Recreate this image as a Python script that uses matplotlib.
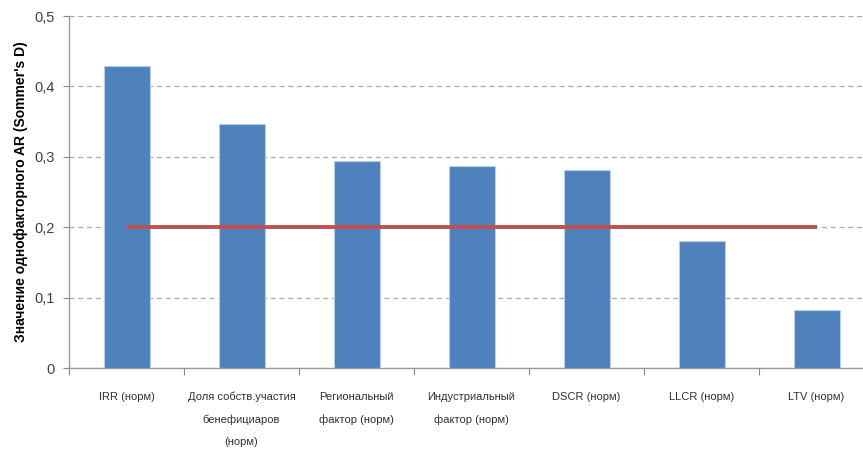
import matplotlib
matplotlib.use("Agg")
import matplotlib.pyplot as plt
from matplotlib.ticker import FixedLocator, NullFormatter, FuncFormatter

categories = [
    "IRR (норм)",
    "Доля собств.участия\nбенефициаров\n(норм)",
    "Региональный\nфактор (норм)",
    "Индустриальный\nфактор (норм)",
    "DSCR (норм)",
    "LLCR (норм)",
    "LTV (норм)",
]
ar_values = [0.429, 0.347, 0.294, 0.287, 0.281, 0.180, 0.083]
threshold = [0.2] * len(categories)
y_ticks = [0, 0.1, 0.2, 0.3, 0.4, 0.5]

plt.rcParams["font.family"] = ["Liberation Sans Narrow", "Liberation Sans", "DejaVu Sans"]

fig = plt.figure(figsize=(8.63, 4.57), dpi=100)
ax = fig.add_axes([69 / 863, 1 - 368 / 457, 805 / 863, 352 / 457])

x = list(range(len(categories)))
ax.bar(x, ar_values, width=0.4, color="#4F81BD", edgecolor="#B9CDE5", linewidth=0.8, zorder=3)
ax.plot(x, threshold, color="#C0504D", linewidth=2.8, solid_capstyle="butt", zorder=4)

ax.set_xlim(-0.5, len(categories) - 0.5)
ax.set_ylim(0, 0.5)
ax.set_yticks(y_ticks)
ax.yaxis.set_major_formatter(FuncFormatter(lambda v, p: ("%g" % round(v, 1)).replace(".", ",")))
ax.tick_params(axis="y", labelsize=10.5, labelcolor="#404040", length=4, width=0.8,
               color="#888888", direction="out", pad=6)

ax.grid(axis="y", color="#ABABAB", linestyle=(0, (4, 3)), linewidth=0.9, zorder=0)

# category labels centred under bars, tick marks on the category boundaries
ax.set_xticks(x)
ax.set_xticklabels(categories, fontsize=8, color="#303030", linespacing=2.5)
ax.tick_params(axis="x", which="major", length=0, pad=17)
ax.xaxis.set_minor_locator(FixedLocator([i - 0.5 for i in range(len(categories) + 1)]))
ax.xaxis.set_minor_formatter(NullFormatter())
ax.tick_params(axis="x", which="minor", length=5, width=0.8, color="#888888", direction="out")

for side in ("top", "right"):
    ax.spines[side].set_visible(False)
for side in ("left", "bottom"):
    ax.spines[side].set_color("#999999")
    ax.spines[side].set_linewidth(1.0)

ax.set_ylabel("Значение однофакторного AR (Sommer's D)", fontsize=10, fontweight="bold",
              family=["Liberation Sans", "DejaVu Sans"], labelpad=5)

fig.savefig("out.png", dpi=100)
